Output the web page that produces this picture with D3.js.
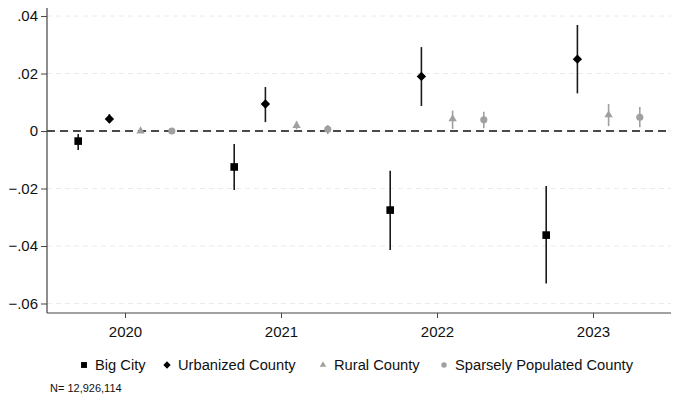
<!DOCTYPE html>
<html>
<head>
<meta charset="utf-8">
<script src="https://cdn.jsdelivr.net/npm/d3@7/dist/d3.min.js"></script>
<style>
  html, body { margin: 0; padding: 0; background: #fff; }
  svg { display: block; font-family: "Liberation Sans", Arial, sans-serif; }
</style>
</head>
<body>
<svg id="chart" width="678" height="398"></svg>
<script>
// Years on the x axis
const years = [2020, 2021, 2022, 2023];
const yTicks = [0.04, 0.02, 0, -0.02, -0.04, -0.06];

// Point estimates and 95% confidence bounds per region type
const bigCity      = [-0.0035, -0.0125, -0.0275, -0.0362];
const bigCityLo    = [-0.0066, -0.0205, -0.0414, -0.0530];
const bigCityHi    = [-0.0010, -0.0045, -0.0138, -0.0191];

const urbanized    = [0.0042, 0.0094, 0.0190, 0.0250];
const urbanizedLo  = [0.0028, 0.0031, 0.0087, 0.0131];
const urbanizedHi  = [0.0059, 0.0153, 0.0292, 0.0369];

const rural        = [0.0000, 0.0019, 0.0042, 0.0056];
const ruralLo      = [-0.0004, 0.0006, 0.0007, 0.0017];
const ruralHi      = [0.0004, 0.0033, 0.0071, 0.0094];

const sparse       = [0.0000, 0.0006, 0.0039, 0.0048];
const sparseLo     = [-0.0004, -0.0011, 0.0010, 0.0013];
const sparseHi     = [0.0004, 0.0021, 0.0067, 0.0084];

const seriesNames = ["Big City", "Urbanized County", "Rural County", "Sparsely Populated County"];
const offsets = [-0.3, -0.1, 0.1, 0.3];

// Diamonds are squares turned by 45 degrees
const series = [
  { name: seriesNames[0], est: bigCity,   lo: bigCityLo,   hi: bigCityHi,   shape: d3.symbolSquare,   rot: 0,  size: 58, color: "#000", bar: "#1a1a1a" },
  { name: seriesNames[1], est: urbanized, lo: urbanizedLo, hi: urbanizedHi, shape: d3.symbolSquare,   rot: 45, size: 44, color: "#000", bar: "#1a1a1a" },
  { name: seriesNames[2], est: rural,     lo: ruralLo,     hi: ruralHi,     shape: d3.symbolTriangle, rot: 0,  size: 30, color: "#a0a0a0", bar: "#a0a0a0" },
  { name: seriesNames[3], est: sparse,    lo: sparseLo,    hi: sparseHi,    shape: d3.symbolCircle,   rot: 0,  size: 40, color: "#a0a0a0", bar: "#a0a0a0" }
];

const svg = d3.select("#chart");
const plotL = 47, plotR = 671, plotT = 8, plotB = 313;

const x = d3.scaleLinear().domain([2019.5, 2023.5]).range([plotL, plotR]);
const y = d3.scaleLinear().domain([-0.0633, 0.0428]).range([plotB, plotT]);

// Horizontal grid lines
svg.append("g")
  .selectAll("line")
  .data(yTicks)
  .join("line")
  .attr("x1", plotL).attr("x2", plotR)
  .attr("y1", d => y(d)).attr("y2", d => y(d))
  .attr("stroke", "#ebebeb")
  .attr("stroke-width", 1)
  .attr("stroke-dasharray", "5,4");

// Zero reference line
svg.append("line")
  .attr("x1", plotL).attr("x2", plotR)
  .attr("y1", y(0)).attr("y2", y(0))
  .attr("stroke", "#111")
  .attr("stroke-width", 1.6)
  .attr("stroke-dasharray", "8,5");

// Axes
const fmt = d => d === 0 ? "0" : d3.format(".2f")(d).replace("0.", ".");
const yAxis = d3.axisLeft(y).tickValues(yTicks).tickFormat(fmt).tickSize(6).tickPadding(3);
const xAxis = d3.axisBottom(x).tickValues(years).tickFormat(d3.format("d")).tickSize(5).tickPadding(8);

const gy = svg.append("g").attr("transform", `translate(${plotL},0)`).call(yAxis);
const gx = svg.append("g").attr("transform", `translate(0,${plotB})`).call(xAxis);
[gy, gx].forEach(g => {
  g.select(".domain").attr("stroke", "#444").attr("stroke-width", 1.2);
  g.selectAll(".tick line").attr("stroke", "#444");
  g.selectAll(".tick text").attr("fill", "#111").style("font-size", "15px").style("font-family", "'Liberation Sans', Arial, sans-serif");
});
gy.select(".domain").attr("d", `M0,${plotT}V${plotB}`);
gx.select(".domain").attr("d", `M${plotL},0H${plotR}`);

// Confidence intervals and point estimates
series.forEach((s, i) => {
  const g = svg.append("g");
  const pts = years.map((yr, j) => ({ xv: yr + offsets[i], e: s.est[j], lo: s.lo[j], hi: s.hi[j] }));
  g.selectAll("line")
    .data(pts)
    .join("line")
    .attr("x1", d => x(d.xv)).attr("x2", d => x(d.xv))
    .attr("y1", d => y(d.lo)).attr("y2", d => y(d.hi))
    .attr("stroke", s.bar)
    .attr("stroke-width", 1.6);
  g.selectAll("path")
    .data(pts)
    .join("path")
    .attr("d", d3.symbol().type(s.shape).size(s.size))
    .attr("transform", d => `translate(${x(d.xv)},${y(d.e)}) rotate(${s.rot})`)
    .attr("fill", s.color);
});

// Legend
const legendPos = [84, 167, 323, 444];
const legend = svg.append("g");
series.forEach((s, i) => {
  const lx = legendPos[i], ly = 365;
  legend.append("path")
    .attr("d", d3.symbol().type(s.shape).size(s.size * 0.6))
    .attr("transform", `translate(${lx},${ly}) rotate(${s.rot})`)
    .attr("fill", s.color);
  legend.append("text")
    .attr("x", lx + 11).attr("y", ly + 5)
    .attr("fill", "#111")
    .style("font-size", "14.7px")
    .text(s.name);
});

// Sample size note
svg.append("text")
  .attr("x", 50).attr("y", 392)
  .attr("fill", "#111")
  .style("font-size", "11px")
  .text("N= 12,926,114");
</script>
</body>
</html>
